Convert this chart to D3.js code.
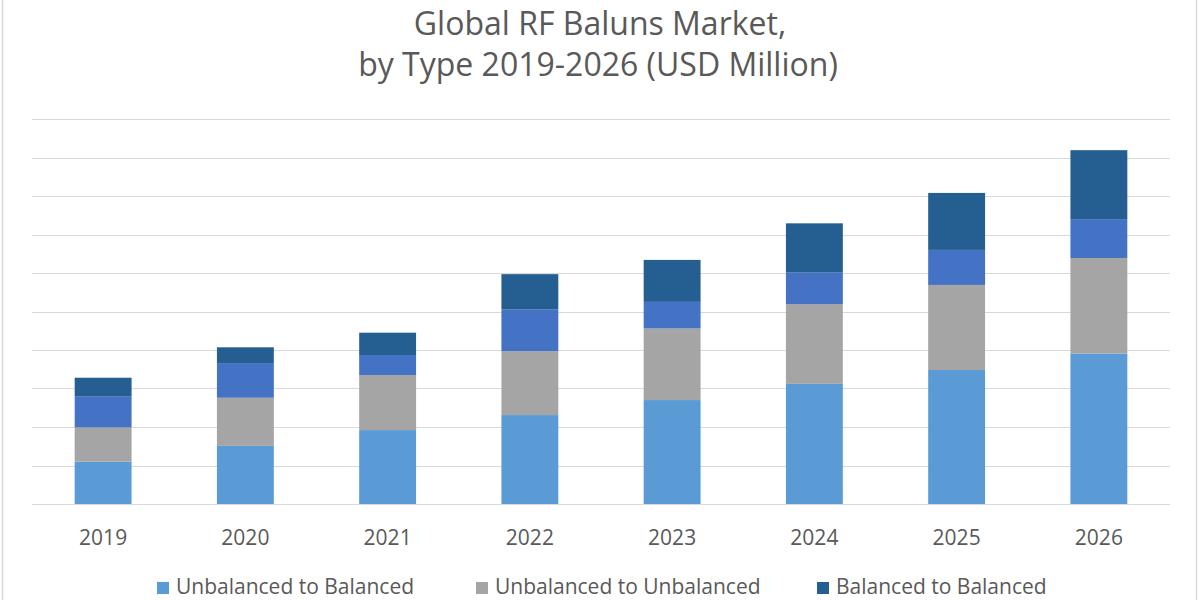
<!DOCTYPE html>
<meta charset="utf-8">
<script src="https://cdn.jsdelivr.net/npm/d3@7"></script>
<style>
body { margin: 0; background: #fff; }
text { font-family: "Open Sans", sans-serif; fill: #595959; }
.grid line { stroke: #d9d9d9; stroke-width: 1px; }
</style>
<body>
<script>

// values, one gridline = 10 units
var years = ["2019", "2020", "2021", "2022", "2023", "2024", "2025", "2026"];
var unbalToBal   = [11.0, 15.1, 19.2, 23.1, 27.0, 31.2, 34.8, 39.1];
var unbalToUnbal = [8.9, 12.5, 14.3, 16.6, 18.6, 20.7, 22.1, 24.8];
var balToUnbal   = [8.1, 9.0, 5.2, 10.8, 6.9, 8.2, 9.1, 10.1];
var balToBal     = [4.8, 4.1, 5.8, 9.2, 10.9, 12.8, 14.8, 17.9];

var keys = ["Unbalanced to Balanced", "Unbalanced to Unbalanced", "Balanced to Unbalanced", "Balanced to Balanced"];
var colors = ["#5b9bd5", "#a5a5a5", "#4472c4", "#255e91"];
var legendKeys = ["Unbalanced to Balanced", "Unbalanced to Unbalanced", "Balanced to Balanced"];

var table = years.map(function(y, i) {
  var row = {year: y};
  row[keys[0]] = unbalToBal[i];
  row[keys[1]] = unbalToUnbal[i];
  row[keys[2]] = balToUnbal[i];
  row[keys[3]] = balToBal[i];
  return row;
});

var width = 1200,
    height = 600;

var plotLeft = 32, plotRight = 1170, plotTop = 119, plotBottom = 504;

var svg = d3.select("body").append("svg")
    .attr("width", width)
    .attr("height", height);

// chart border
svg.append("rect")
    .attr("x", 2.5).attr("y", -10)
    .attr("width", 1194).attr("height", 620)
    .attr("fill", "none")
    .attr("stroke", "#d9d9d9")
    .attr("stroke-width", 1.5);

var x = d3.scaleBand()
    .domain(years)
    .range([plotLeft, plotRight])
    .paddingInner(0.6)
    .paddingOuter(0.3);

var y = d3.scaleLinear()
    .domain([0, 100])
    .range([plotBottom, plotTop]);

var color = d3.scaleOrdinal().domain(keys).range(colors);

// gridlines
svg.append("g")
    .attr("class", "grid")
    .selectAll("line")
    .data(y.ticks(10))
    .enter().append("line")
    .attr("x1", plotLeft).attr("x2", plotRight)
    .attr("y1", function(d) { return Math.round(y(d)) + 0.5; })
    .attr("y2", function(d) { return Math.round(y(d)) + 0.5; });

var series = d3.stack().keys(keys)(table);

svg.append("g")
    .selectAll("g")
    .data(series)
    .enter().append("g")
    .attr("fill", function(d) { return color(d.key); })
    .selectAll("rect")
    .data(function(d) { return d; })
    .enter().append("rect")
    .attr("x", function(d) { return x(d.data.year); })
    .attr("width", x.bandwidth())
    .attr("y", function(d) { return y(d[1]); })
    .attr("height", function(d) { return y(d[0]) - y(d[1]); });

// x axis labels
var xAxis = svg.append("g")
    .attr("transform", "translate(0," + plotBottom + ")")
    .call(d3.axisBottom(x).tickSize(0).tickPadding(26));
xAxis.select(".domain").remove();
xAxis.selectAll("text")
    .style("font-size", "21px")
    .style("font-family", "'Open Sans', sans-serif")
    .attr("fill", "#595959");

// title
svg.append("text")
    .attr("x", 600).attr("y", 35)
    .attr("text-anchor", "middle")
    .style("font-size", "32px")
    .text("Global RF Baluns Market,");
svg.append("text")
    .attr("x", 598).attr("y", 76)
    .attr("text-anchor", "middle")
    .style("font-size", "32px")
    .text("by Type 2019-2026 (USD Million)");

// legend
var legendX = [157, 476, 817];
var legend = svg.append("g")
    .selectAll("g")
    .data(legendKeys)
    .enter().append("g")
    .attr("transform", function(d, i) { return "translate(" + legendX[i] + ",0)"; });
legend.append("rect")
    .attr("x", 0).attr("y", 582)
    .attr("width", 12).attr("height", 12)
    .attr("fill", function(d) { return color(d); });
legend.append("text")
    .attr("x", 19).attr("y", 594)
    .style("font-size", "21px")
    .text(function(d) { return d; });

</script>
</body>
